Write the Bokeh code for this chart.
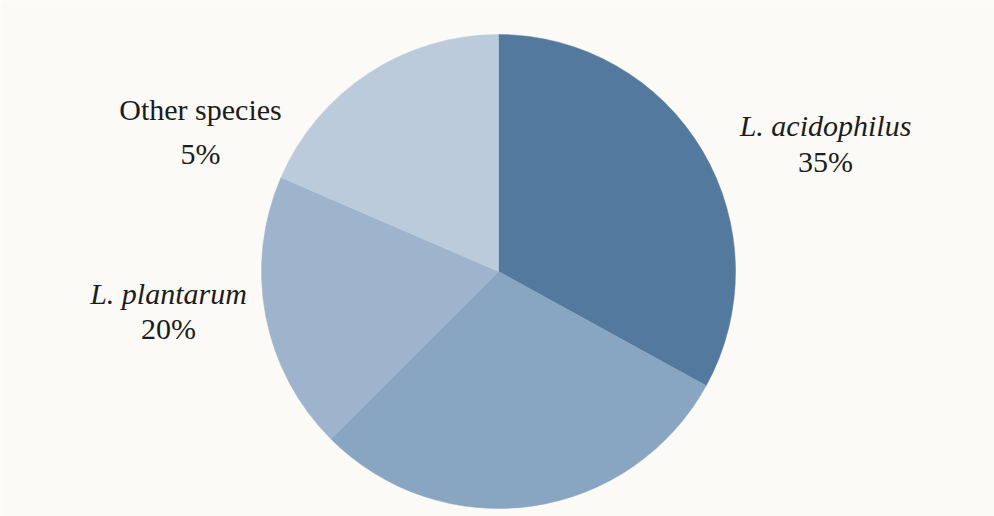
import math
from bokeh.plotting import figure
from bokeh.models import Range1d, ColumnDataSource
from bokeh.core.properties import value
from bokeh.embed import file_html
from bokeh.resources import INLINE

categories = ["L. acidophilus", "(unlabeled)", "L. plantarum", "Other species"]
shares = [33.0, 29.5, 19.0, 18.5]
colors = ["#537a9e", "#88a6c2", "#9eb4cc", "#bccbdb"]
label_names = ["L. acidophilus", None, "L. plantarum", "Other species"]
label_pcts = ["35%", None, "20%", "5%"]
label_italic = [True, False, True, False]

W, H = 994, 516
BG = "#fcfaf7"
TXT = "#1c1c1c"
cx, cy, r = 498, H - 271, 237

p = figure(width=W, height=H, output_backend="svg", toolbar_location=None,
           x_range=Range1d(0, W), y_range=Range1d(0, H), min_border=0)
p.axis.visible = False
p.grid.visible = False
p.outline_line_color = None
p.background_fill_color = BG
p.border_fill_color = BG

total = sum(shares)
starts, ends = [], []
acc = 0.0
for s in shares:
    starts.append(math.pi / 2 - 2 * math.pi * acc / total)
    acc += s
    ends.append(math.pi / 2 - 2 * math.pi * acc / total)

src = ColumnDataSource(dict(x=[cx] * len(shares), y=[cy] * len(shares),
                            start=starts, end=ends, color=colors, cat=categories))
p.wedge(x="x", y="y", radius=r, start_angle="start", end_angle="end",
        direction="clock", fill_color="color", line_color="color", line_width=0.5,
        source=src)

# label placement (layout, pixel coordinates from top)
label_pos = [(825, 125, 161), None, (168, 293, 328), (200, 109, 153)]

for name, pct, ital, pos in zip(label_names, label_pcts, label_italic, label_pos):
    if name is None:
        continue
    x, y1, y2 = pos
    if ital:
        p.text(x=[x], y=[H - y1], text=[name], text_font=value("Liberation Serif"),
               text_font_size="30px", text_font_style="italic", text_color=TXT,
               text_align="center", text_baseline="middle")
    else:
        p.text(x=[x], y=[H - y1], text=[name], text_font=value("Liberation Serif"),
               text_font_size="30px", text_color=TXT,
               text_align="center", text_baseline="middle")
    p.text(x=[x], y=[H - y2], text=[pct], text_font=value("Liberation Serif"),
           text_font_size="30px", text_color=TXT,
           text_align="center", text_baseline="middle")

open("out.html", "w").write(file_html(p, INLINE))
